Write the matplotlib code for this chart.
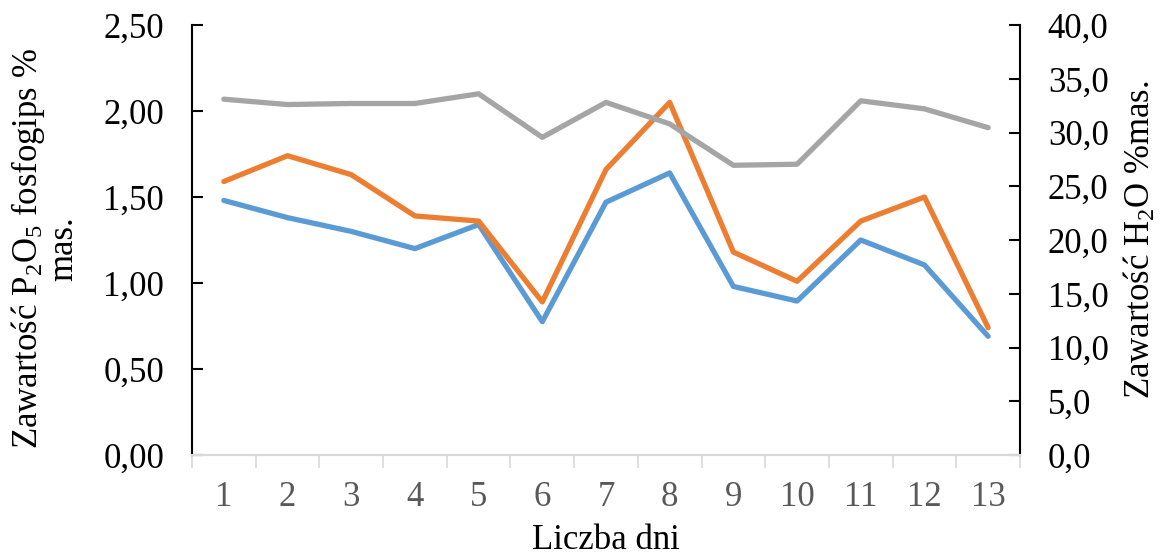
import matplotlib
matplotlib.use("Agg")
import matplotlib.pyplot as plt
from matplotlib.ticker import FixedLocator, FuncFormatter

plt.rcParams['font.family'] = ['Liberation Serif', 'DejaVu Serif']
plt.rcParams['mathtext.fontset'] = 'custom'
plt.rcParams['mathtext.rm'] = 'Liberation Serif'
plt.rcParams['mathtext.it'] = 'Liberation Serif:italic'

# Days of measurement
days = list(range(1, 14))
day_labels = [str(d) for d in days]

# P2O5 content in phosphogypsum, % mass (left axis)
p2o5_a = [1.48, 1.38, 1.30, 1.20, 1.34, 0.775, 1.47, 1.64, 0.98, 0.895, 1.25, 1.105, 0.69]
p2o5_b = [1.59, 1.74, 1.63, 1.39, 1.36, 0.89, 1.66, 2.05, 1.18, 1.01, 1.36, 1.50, 0.74]

# H2O content, % mass (right axis)
h2o = [33.1, 32.6, 32.7, 32.7, 33.6, 29.55, 32.8, 30.8, 26.95, 27.05, 32.95, 32.2, 30.45]

left_ticks = [0.0, 0.5, 1.0, 1.5, 2.0, 2.5]
right_ticks = [0, 5, 10, 15, 20, 25, 30, 35, 40]

BLUE = '#5b9bd5'
ORANGE = '#ed7d31'
GRAY = '#a5a5a5'
FS = 25

fig = plt.figure(figsize=(11.6, 5.55), dpi=100)
ax = fig.add_axes([192 / 1160, 1 - 455 / 555, (1020 - 192) / 1160, 430 / 555])
ax2 = ax.twinx()

style = dict(lw=3.8, solid_joinstyle='round', solid_capstyle='round', zorder=3)
ax.plot(days, p2o5_a, color=BLUE, **style)
ax.plot(days, p2o5_b, color=ORANGE, **style)
ax2.plot(days, h2o, color=GRAY, **style)

ax.set_xlim(0.5, 13.5)
ax.set_ylim(0, 2.5)
ax2.set_ylim(0, 40)

# Category axis: labels at centres, gray tick marks at the boundaries
ax.xaxis.set_major_locator(FixedLocator(days))
ax.set_xticklabels(day_labels)
ax.xaxis.set_minor_locator(FixedLocator([d + 0.5 for d in [0] + days]))
ax.tick_params(axis='x', which='major', length=0, pad=19, labelsize=FS, labelcolor='#595959')
ax.tick_params(axis='x', which='minor', length=9, width=1.2, color='#d9d9d9', direction='out')

ax.yaxis.set_major_locator(FixedLocator(left_ticks))
ax.yaxis.set_major_formatter(FuncFormatter(lambda v, p: f"{v:.2f}".replace('.', ',')))
ax.tick_params(axis='y', direction='in', length=8, width=1.5, labelsize=FS, pad=20, colors='black')

ax2.yaxis.set_major_locator(FixedLocator(right_ticks))
ax2.yaxis.set_major_formatter(FuncFormatter(lambda v, p: f"{v:.1f}".replace('.', ',')))
ax2.tick_params(axis='y', direction='in', length=8, width=1.5, labelsize=FS, pad=20, colors='black')

for a in (ax, ax2):
    a.spines['top'].set_visible(False)
    a.spines['bottom'].set_color('#d9d9d9')
    a.spines['bottom'].set_linewidth(1.5)
    a.spines['left'].set_linewidth(1.5)
    a.spines['right'].set_linewidth(1.5)
ax.spines['right'].set_visible(False)
ax2.spines['left'].set_visible(False)

ax.set_xlabel('Liczba dni', fontsize=FS, labelpad=7)
ax.set_ylabel('Zawartość P$\\mathregular{_2}$O$\\mathregular{_5}$ fosfogips %\nmas.',
              fontsize=FS, linespacing=1.0)
ax.yaxis.set_label_coords(-0.135, 0.48)
ax2.set_ylabel('Zawartość H$\\mathregular{_2}$O %mas.', fontsize=FS, labelpad=10)

fig.savefig('out.png', dpi=100)
